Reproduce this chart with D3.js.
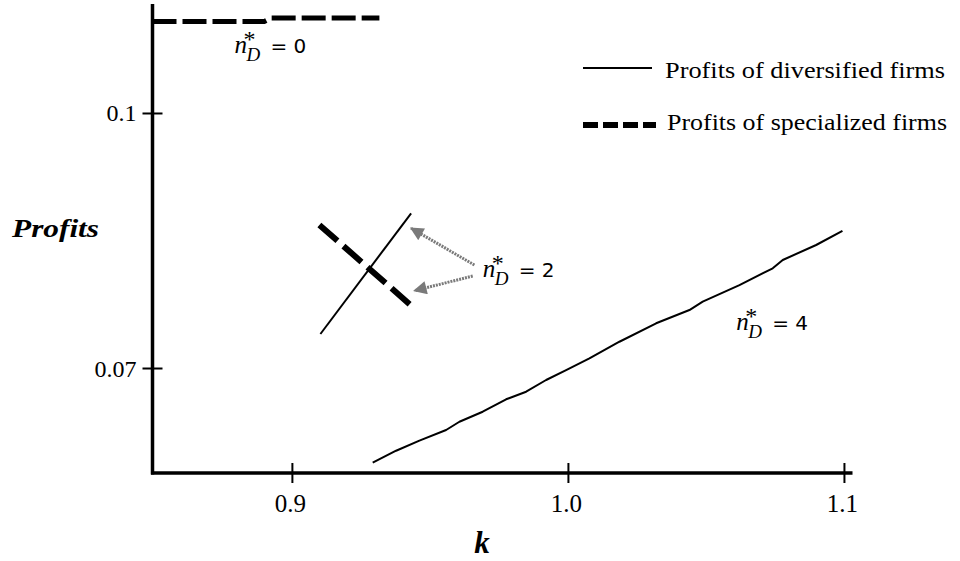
<!DOCTYPE html>
<html><head><meta charset="utf-8">
<script src="https://cdn.jsdelivr.net/npm/d3@7/dist/d3.min.js"></script>
<style>body{margin:0;background:#fff}svg{display:block}</style>
</head><body>
<svg id="c" width="960" height="561"></svg>
<script>
// ---- data ----
const xTicks = [0.9, 1.0, 1.1];
const xTickLabels = ["0.9", "1.0", "1.1"];
const yTicks = [0.07, 0.1];
const yTickLabels = ["0.07", "0.1"];

// n*_D = 0 : profits of specialized firms
const spec0K = [0.8495, 0.8900, 0.8926, 0.9317];
const spec0P = [0.11076, 0.11076, 0.11118, 0.11118];
// n*_D = 2 : diversified and specialized
const div2K = [0.91033, 0.94319];
const div2P = [0.0740, 0.0882];
const spec2K = [0.90996, 0.94438];
const spec2P = [0.08682, 0.07702];
// n*_D = 4 : diversified
const div4K = [0.92928, 0.93775, 0.94620, 0.95587, 0.96069, 0.96913, 0.97761, 0.98486, 0.99210, 0.99935,
               1.00779, 1.01866, 1.03196, 1.04402, 1.04884, 1.06214, 1.07420, 1.07783, 1.08993, 1.09946];
const div4P = [0.05886, 0.06027, 0.06145, 0.06271, 0.06368, 0.06486, 0.06632, 0.06721, 0.06859, 0.06976,
               0.07114, 0.07309, 0.07526, 0.07682, 0.07780, 0.07976, 0.08173, 0.08271, 0.08447, 0.08612];

const labelVals = ["0", "2", "4"];
const labelK = [0.87917, 0.96913, 1.06094];
const labelP = [0.10706, 0.08074, 0.07447];

const arrowFromK = [0.96612, 0.96551];
const arrowFromP = [0.08212, 0.08082];
const arrowToK = [0.94319, 0.94438];
const arrowToP = [0.08644, 0.07909];

const legendLabels = ["Profits of diversified firms", "Profits of specialized firms"];

const SERIF = "Liberation Serif";
const SANS = "DejaVu Sans";

// ---- scales ----
const svg = d3.select("#c");
const x = d3.scaleLinear().domain([0.8495, 1.1031]).range([152.5, 852.5]);
const y = d3.scaleLinear().domain([0.05765, 0.11282]).range([473, 4]);
const line = d3.line().x(d => x(d[0])).y(d => y(d[1]));
const zip = (a, b) => a.map((v, i) => [v, b[i]]);

// ---- axes ----
const xAxis = svg.append("g").attr("transform", `translate(0,${y.range()[0]})`)
  .call(d3.axisBottom(x).tickValues(xTicks).tickFormat((d, i) => xTickLabels[i]).tickSize(10).tickPadding(0));
xAxis.select(".domain").remove();
xAxis.selectAll(".tick line").attr("y1", -10).attr("y2", 10).attr("stroke", "#000").attr("stroke-width", 2);
xAxis.selectAll(".tick text").attr("y", 39).attr("dy", 0).attr("dx", -2)
  .style("font-family", SERIF).style("font-size", "25px").attr("fill", "#000");

const yAxis = svg.append("g").attr("transform", `translate(${x.range()[0]},0)`)
  .call(d3.axisLeft(y).tickValues(yTicks).tickFormat((d, i) => yTickLabels[i]).tickSize(10).tickPadding(0));
yAxis.select(".domain").remove();
yAxis.selectAll(".tick line").attr("x1", -10).attr("x2", 10).attr("stroke", "#000").attr("stroke-width", 2);
yAxis.selectAll(".tick text").attr("x", -16).attr("dy", 8)
  .style("font-family", SERIF).style("font-size", "24px").attr("fill", "#000");

svg.append("line").attr("x1", x.range()[0]).attr("x2", x.range()[0]).attr("y1", y.range()[1]).attr("y2", y.range()[0] + 1.5)
  .attr("stroke", "#000").attr("stroke-width", 3.5);
svg.append("line").attr("x1", x.range()[0] - 1.5).attr("x2", x.range()[1]).attr("y1", y.range()[0]).attr("y2", y.range()[0])
  .attr("stroke", "#000").attr("stroke-width", 3.5);

// axis titles
svg.append("text").attr("x", 482).attr("y", 553).attr("text-anchor", "middle")
  .style("font-family", SERIF).style("font-size", "31px")
  .style("font-style", "italic").style("font-weight", "bold").text("k");
svg.append("text").attr("x", 12).attr("y", 237)
  .style("font-family", SERIF).style("font-size", "25px")
  .style("font-style", "italic").style("font-weight", "bold")
  .attr("textLength", 87).attr("lengthAdjust", "spacingAndGlyphs").text("Profits");

// ---- series ----
svg.append("path").datum(zip(spec0K, spec0P)).attr("d", line).attr("fill", "none")
  .attr("stroke", "#000").attr("stroke-width", 5).attr("stroke-dasharray", "24,6");
svg.append("path").datum(zip(div2K, div2P)).attr("d", line).attr("fill", "none")
  .attr("stroke", "#000").attr("stroke-width", 2);
svg.append("path").datum(zip(spec2K, spec2P)).attr("d", line).attr("fill", "none")
  .attr("stroke", "#000").attr("stroke-width", 6).attr("stroke-dasharray", "24,8");
svg.append("path").datum(zip(div4K, div4P)).attr("d", line).attr("fill", "none")
  .attr("stroke", "#000").attr("stroke-width", 2).attr("stroke-linejoin", "round");

// ---- arrows ----
const defs = svg.append("defs");
defs.append("marker").attr("id", "ah").attr("viewBox", "0 0 10 10").attr("refX", 9).attr("refY", 5)
  .attr("markerWidth", 5).attr("markerHeight", 4.5).attr("markerUnits", "strokeWidth").attr("orient", "auto")
  .append("path").attr("d", "M0,0 L10,5 L0,10 Z").attr("fill", "#7a7a7a");
arrowFromK.forEach((k, i) => {
  svg.append("line").attr("x1", x(k)).attr("y1", y(arrowFromP[i]))
    .attr("x2", x(arrowToK[i])).attr("y2", y(arrowToP[i]))
    .attr("stroke", "#7a7a7a").attr("stroke-width", 3).attr("stroke-dasharray", "2,1")
    .attr("marker-end", "url(#ah)");
});

// ---- n*_D labels ----
labelVals.forEach((v, i) => {
  const g = svg.append("g").attr("transform", `translate(${x(labelK[i])},${y(labelP[i])})`);
  g.append("text").style("font-family", SERIF).style("font-style", "italic")
    .style("font-size", "25px").attr("x", 0).attr("y", 0).text("n");
  g.append("text").style("font-family", SERIF).style("font-style", "italic")
    .style("font-size", "19px").attr("x", 12).attr("y", 8).text("D");
  g.append("text").style("font-family", SERIF)
    .style("font-size", "24px").attr("x", 9).attr("y", -6).text("*");
  g.append("text").style("font-family", SANS)
    .style("font-size", "20px").attr("x", 36).attr("y", 0).text("= " + v);
});

// ---- legend ----
const lg = svg.append("g");
lg.append("line").attr("x1", 583).attr("x2", 652).attr("y1", 68).attr("y2", 68)
  .attr("stroke", "#000").attr("stroke-width", 2);
lg.append("line").attr("x1", 583).attr("x2", 656).attr("y1", 125).attr("y2", 125)
  .attr("stroke", "#000").attr("stroke-width", 6).attr("stroke-dasharray", "15,5");
lg.append("text").attr("x", 665).attr("y", 77.5).style("font-family", SERIF)
  .style("font-size", "23px").attr("textLength", 280).attr("lengthAdjust", "spacingAndGlyphs").text(legendLabels[0]);
lg.append("text").attr("x", 667).attr("y", 129.5).style("font-family", SERIF)
  .style("font-size", "23px").attr("textLength", 280).attr("lengthAdjust", "spacingAndGlyphs").text(legendLabels[1]);
</script>
</body></html>
